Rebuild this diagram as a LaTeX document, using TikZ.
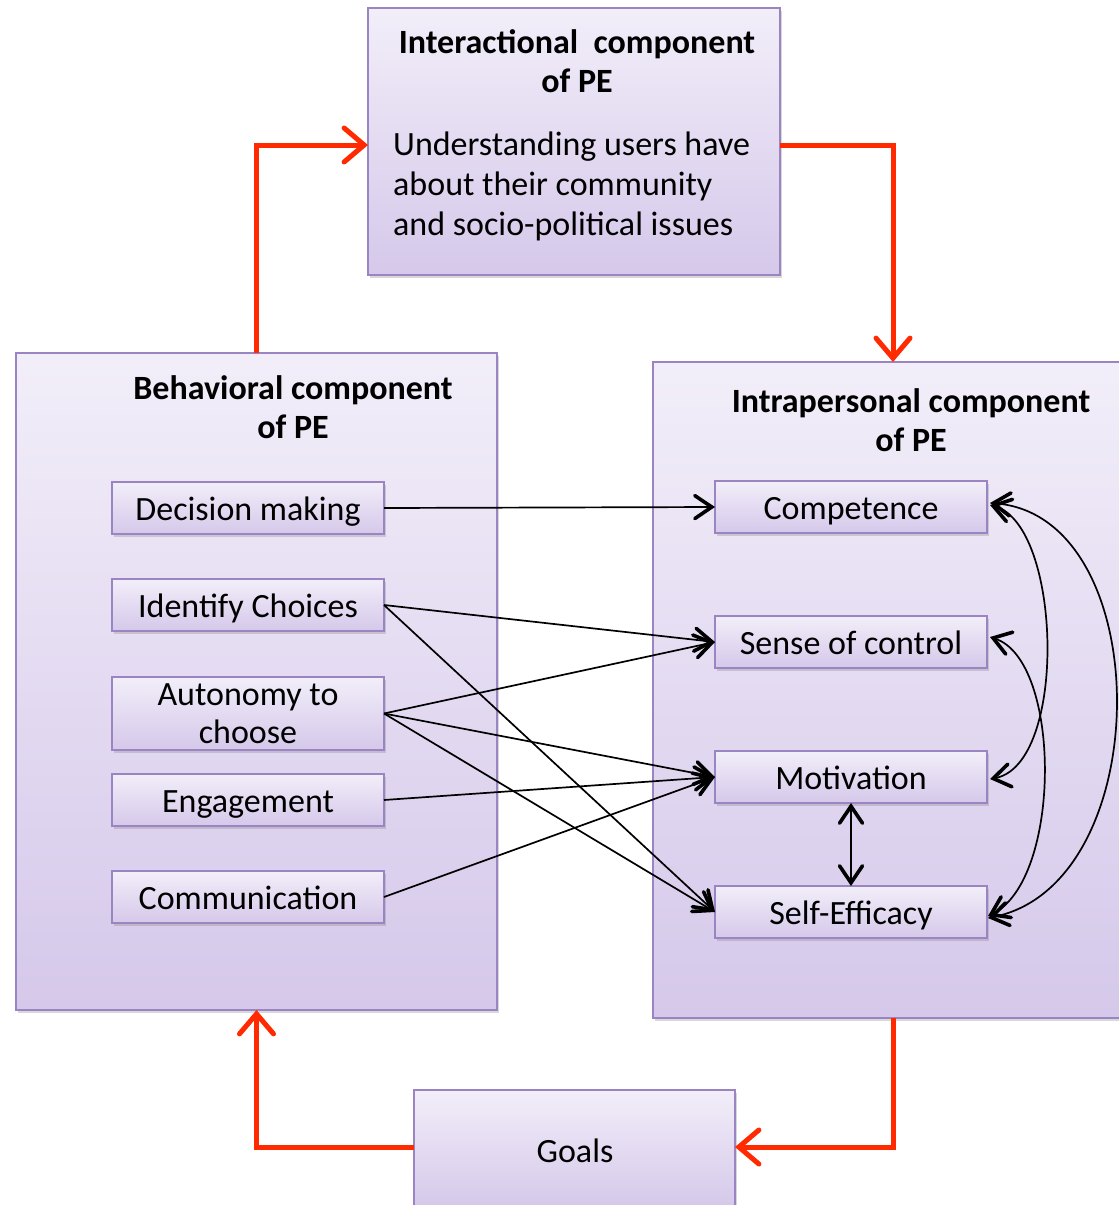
\documentclass[tikz,border=0pt]{standalone}
\usepackage{fontspec}
\setmainfont{Carlito}
\usetikzlibrary{arrows.meta,shadows}
\definecolor{boxtop}{HTML}{F2EEF9}
\definecolor{boxbot}{HTML}{D5C8EA}
\definecolor{boxline}{HTML}{9B84C2}
\definecolor{loopred}{HTML}{FF2A00}
\tikzset{
  panel/.style={draw=boxline, line width=1.6pt, top color=boxtop, bottom color=boxbot,
    inner sep=0pt, outer sep=0pt, anchor=north west,
    drop shadow={shadow xshift=2pt, shadow yshift=-3pt, opacity=0.3}},
  item/.style={panel, font=\fontsize{34}{38}\selectfont, align=center, text depth=0pt},
  oneline/.style={item, text height=25pt, minimum width=272pt, minimum height=52pt},
  heading/.style={font=\fontsize{34}{39.5}\selectfont\bfseries, align=center, inner sep=0pt},
  bodytext/.style={font=\fontsize{34}{40}\selectfont, align=left, inner sep=0pt},
  barb/.tip={Straight Barb[length=17pt,width=23pt,line width=3.6pt,line cap=round]},
  link/.style={draw=black, line width=1.7pt, -barb},
  twoway/.style={draw=black, line width=1.7pt, barb-barb},
  loop/.style={draw=loopred, line width=5pt,
    -{Straight Barb[length=20pt,width=34pt,line width=5pt,line cap=round]}}
}
\begin{document}
\begin{tikzpicture}[x=1pt, y=-1pt]
  \useasboundingbox (0,0) rectangle (1119,1205);
  \clip (0,0) rectangle (1119,1205);
  \fill[white] (0,0) rectangle (1119,1205);

  % main components
  \node[panel, minimum width=412pt, minimum height=267pt] (inter) at (368,8) {};
  \node[heading] (intertitle) at (577,61) {Interactional\ \ component\\of PE};
  \node[bodytext, anchor=west] (interbody) at (393,186)
    {Understanding users have\\about their community\\and socio-political issues};

  \node[panel, minimum width=481pt, minimum height=657pt] (beh) at (16,353) {};
  \node[heading] (behtitle) at (293,407) {Behavioral component\\of PE};

  \node[panel, minimum width=480pt, minimum height=656pt] (intra) at (653,362) {};
  \node[heading] (intratitle) at (911,420) {Intrapersonal component\\of PE};

  \node[panel, minimum width=321pt, minimum height=118pt] (goals) at (414,1090) {};
  \node[bodytext] (goalstext) at (575,1151) {Goals};

  % behavioral items
  \node[oneline] (dm) at (112,482) {Decision making};
  \node[oneline] (ic) at (112,579) {Identify Choices};
  \node[item, minimum width=272pt, minimum height=73pt] (ac) at (112,677) {Autonomy to\\choose};
  \node[oneline] (en) at (112,774) {Engagement};
  \node[oneline] (co) at (112,871) {Communication};

  % intrapersonal items
  \node[oneline] (comp) at (715,481) {Competence};
  \node[oneline] (soc) at (715,616) {Sense of control};
  \node[oneline] (mot) at (715,751) {Motivation};
  \node[oneline] (se) at (715,886) {Self-Efficacy};

  % links between the two components
  \draw[link] (dm.east) -- (comp.west);
  \draw[link] (ic.east) -- (soc.west);
  \draw[link] (ic.east) -- (se.west);
  \draw[link] (ac.east) -- (soc.west);
  \draw[link] (ac.east) -- (mot.west);
  \draw[link] (ac.east) -- (se.west);
  \draw[link] (en.east) -- (mot.west);
  \draw[link] (co.east) -- (mot.west);

  % relations inside the intrapersonal component
  \draw[twoway] (mot.south) -- (se.north);
  \draw[twoway] ([xshift=3pt,yshift=2pt]comp.east) .. controls (1062,525) and (1068,765) .. ([xshift=3pt,yshift=-2pt]mot.east);
  \draw[twoway] ([xshift=3pt,yshift=4pt]comp.east) .. controls (1158,515) and (1158,885) .. ([xshift=1pt,yshift=-6pt]se.east);
  \draw[twoway] ([xshift=3pt,yshift=5pt]soc.east) .. controls (1062,660) and (1062,880) .. ([xshift=1pt,yshift=-4pt]se.east);

  % the red cycle
  \draw[loop] (beh.north) |- ([yshift=-3.5pt]inter.west);
  \draw[loop] ([yshift=-3.5pt]inter.east) -| (intra.north);
  \draw[loop] (intra.south) |- ([yshift=2pt]goals.east);
  \draw[loop] ([yshift=2pt]goals.west) -| (beh.south);
\end{tikzpicture}
\end{document}
